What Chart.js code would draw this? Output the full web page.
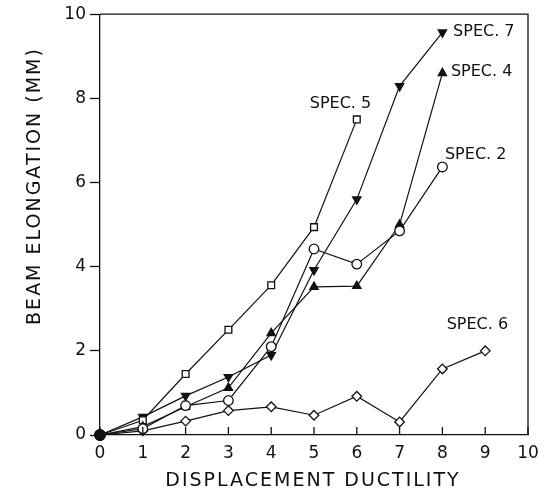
<!DOCTYPE html>
<html>
<head>
<meta charset="utf-8">
<script src="https://cdn.jsdelivr.net/npm/chart.js@4/dist/chart.umd.min.js"></script>
<style>
  body { margin: 0; background: #fff; }
  canvas { display: block; }
</style>
</head>
<body>
<canvas id="chart" width="552" height="499"></canvas>
<script>
  // displacement ductility steps
  const ductility = [0, 1, 2, 3, 4, 5, 6, 7, 8, 9];

  // beam elongation (mm) per specimen
  const spec2 = [0, 0.15, 0.7, 0.82, 2.1, 4.42, 4.06, 4.85, 6.37];
  const spec4 = [0, 0.2, 0.67, 1.12, 2.42, 3.52, 3.54, 5.0, 8.6];
  const spec5 = [0, 0.35, 1.45, 2.5, 3.56, 4.94, 7.5];
  const spec6 = [0, 0.1, 0.33, 0.58, 0.67, 0.47, 0.92, 0.31, 1.57, 2.0];
  const spec7 = [0, 0.43, 0.93, 1.38, 1.9, 3.92, 5.6, 8.29, 9.57];

  const specNames = ['SPEC. 2', 'SPEC. 4', 'SPEC. 5', 'SPEC. 6', 'SPEC. 7'];
  // where each name sits, in data units (left edge, middle)
  const labelX = [8.06, 8.2, 4.9, 8.1, 8.25];
  const labelY = [6.65, 8.62, 7.86, 2.61, 9.57];

  const xTicks = [0, 1, 2, 3, 4, 5, 6, 7, 8, 9, 10];
  const yTicks = [0, 2, 4, 6, 8, 10];

  function pts(values) {
    return values.map((v, i) => ({ x: ductility[i], y: v }));
  }

  function series(values, style, filled, rotation) {
    return {
      data: pts(values),
      clip: false,
      borderColor: '#111',
      borderWidth: 1.2,
      pointStyle: ctx => ctx.dataIndex === 0 ? 'circle' : style,
      pointRotation: rotation || 0,
      pointRadius: ctx => ctx.dataIndex === 0 ? 5 : 4.8,
      pointBorderWidth: 1.3,
      pointBorderColor: '#111',
      // the origin point is drawn solid in the original
      pointBackgroundColor: ctx => (filled || ctx.dataIndex === 0) ? '#111' : '#fff',
      tension: 0
    };
  }

  const font = '"DejaVu Sans", sans-serif';

  const decorations = {
    id: 'decorations',
    afterDraw(chart) {
      const ctx = chart.ctx;
      const a = chart.chartArea;
      const xs = chart.scales.x, ys = chart.scales.y;
      ctx.save();
      ctx.strokeStyle = '#111';
      ctx.lineWidth = 1.3;
      // frame top and right
      ctx.beginPath();
      ctx.moveTo(a.left, a.top);
      ctx.lineTo(a.right, a.top);
      ctx.lineTo(a.right, a.bottom);
      ctx.stroke();
      // inward ticks on x axis
      ctx.beginPath();
      xTicks.forEach(t => {
        const px = xs.getPixelForValue(t);
        ctx.moveTo(px, a.bottom);
        ctx.lineTo(px, a.bottom - 8);
      });
      ctx.stroke();

      ctx.fillStyle = '#111';
      ctx.textBaseline = 'middle';
      ctx.textAlign = 'left';
      ctx.font = '16px ' + font;
      specNames.forEach((name, i) => {
        ctx.fillText(name, xs.getPixelForValue(labelX[i]), ys.getPixelForValue(labelY[i]));
      });

      // axis titles
      ctx.font = '19px ' + font;
      ctx.letterSpacing = '2px';
      ctx.textAlign = 'center';
      ctx.fillText('DISPLACEMENT DUCTILITY', 313, 481);
      ctx.translate(35, 186);
      ctx.rotate(-Math.PI / 2);
      ctx.fillText('BEAM ELONGATION (MM)', 0, 0);
      ctx.restore();
    }
  };

  new Chart(document.getElementById('chart'), {
    type: 'line',
    data: {
      datasets: [
        series(spec2, 'circle', false),
        series(spec4, 'triangle', true),
        series(spec5, 'rect', false),
        series(spec6, 'rectRot', false),
        series(spec7, 'triangle', true, 180)
      ]
    },
    options: {
      responsive: false,
      animation: false,
      layout: { padding: { top: 14, right: 24, left: 0, bottom: 0 } },
      plugins: { legend: { display: false }, tooltip: { enabled: false } },
      scales: {
        x: {
          type: 'linear',
          min: 0,
          max: 10,
          afterFit(scale) { scale.height = 64; },
          afterBuildTicks(scale) { scale.ticks = xTicks.map(v => ({ value: v })); },
          grid: { display: true, drawOnChartArea: false, drawTicks: false },
          border: { color: '#111', width: 1.3 },
          ticks: { color: '#111', padding: 8, font: { family: font, size: 17 } }
        },
        y: {
          min: 0,
          max: 10,
          afterFit(scale) { scale.width = 100; },
          afterBuildTicks(scale) { scale.ticks = yTicks.map(v => ({ value: v })); },
          grid: { drawOnChartArea: false, drawTicks: true, tickLength: 10, color: '#111', tickWidth: 1.3 },
          border: { color: '#111', width: 1.3 },
          ticks: { color: '#111', padding: 4, font: { family: font, size: 17 } }
        }
      }
    },
    plugins: [decorations]
  });
</script>
</body>
</html>
